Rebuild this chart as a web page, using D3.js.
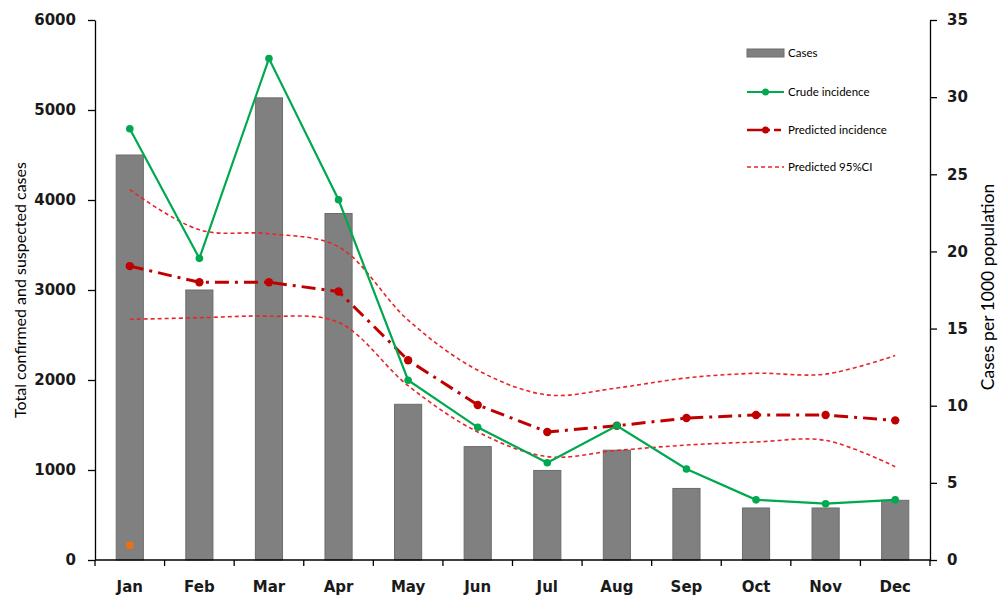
<!DOCTYPE html>
<html>
<head>
<meta charset="utf-8">
<script src="https://cdn.jsdelivr.net/npm/d3@7"></script>
<style>
  html, body { margin: 0; padding: 0; background: #fff; }
  svg { display: block; font-family: Lato, "Open Sans", sans-serif; }
</style>
</head>
<body>
<div id="chart"></div>
<script>
const months = ["Jan","Feb","Mar","Apr","May","Jun","Jul","Aug","Sep","Oct","Nov","Dec"];
const cases = [4500, 3000, 5135, 3850, 1730, 1260, 995, 1220, 795, 578, 578, 663];
const crudeIncidence = [27.95, 19.55, 32.5, 23.35, 11.65, 8.6, 6.3, 8.7, 5.9, 3.9, 3.65, 3.9];
const predictedIncidence = [19.05, 18.0, 18.0, 17.4, 12.95, 10.05, 8.3, 8.7, 9.2, 9.4, 9.4, 9.05];
const predictedUpper = [24.0, 21.4, 21.15, 20.3, 15.55, 12.3, 10.7, 11.15, 11.8, 12.1, 12.05, 13.25];
const predictedLower = [15.6, 15.7, 15.8, 15.4, 11.3, 8.3, 6.7, 7.1, 7.45, 7.65, 7.75, 6.05];
const extraMarker = [{month: "Jan", value: 0.95}];
const leftTicks = [0, 1000, 2000, 3000, 4000, 5000, 6000];
const rightTicks = [0, 5, 10, 15, 20, 25, 30, 35];
const legendItems = ["Cases", "Crude incidence", "Predicted incidence", "Predicted 95%CI"];

const W = 1000, H = 597;
const m = {left: 95, right: 70, top: 20, bottom: 37};
const svg = d3.select("#chart").append("svg").attr("width", W).attr("height", H);

const x = d3.scaleBand().domain(months).range([m.left, W - m.right]).paddingInner(0.61).paddingOuter(0.305);
const yL = d3.scaleLinear().domain([0, 6000]).range([H - m.bottom, m.top]);
const yR = d3.scaleLinear().domain([0, 35]).range([H - m.bottom, m.top]);
const cx = d => x(d) + x.bandwidth() / 2;

const GREEN = "#00a84f", DARKRED = "#c00000", RED = "#e8242a", ORANGE = "#f07010";
const NUMFONT = "'DejaVu Sans', Verdana, sans-serif";

// Bars
svg.append("g").selectAll("rect").data(months).join("rect")
  .attr("x", d => x(d))
  .attr("y", (d, i) => yL(cases[i]))
  .attr("width", x.bandwidth())
  .attr("height", (d, i) => yL(0) - yL(cases[i]))
  .attr("fill", "#808080")
  .attr("stroke", "#6c6c6c")
  .attr("stroke-width", 1);

// CI lines
const ciLine = arr => d3.line().x((d, i) => cx(months[i])).y(d => yR(d)).curve(d3.curveCatmullRom.alpha(0.5))(arr);
[predictedUpper, predictedLower].forEach(arr => {
  svg.append("path").attr("d", ciLine(arr)).attr("fill", "none")
    .attr("stroke", RED).attr("stroke-width", 1.6).attr("stroke-dasharray", "4,3");
});

// Predicted line
const straight = arr => d3.line().x((d, i) => cx(months[i])).y(d => yR(d))(arr);
svg.append("path").attr("d", straight(predictedIncidence)).attr("fill", "none")
  .attr("stroke", DARKRED).attr("stroke-width", 3).attr("stroke-dasharray", "14,6,3,6");
svg.append("g").selectAll("circle").data(predictedIncidence).join("circle")
  .attr("cx", (d, i) => cx(months[i])).attr("cy", d => yR(d)).attr("r", 4.2).attr("fill", DARKRED);

// Crude line
svg.append("path").attr("d", straight(crudeIncidence)).attr("fill", "none")
  .attr("stroke", GREEN).attr("stroke-width", 2.2);
svg.append("g").selectAll("circle").data(crudeIncidence).join("circle")
  .attr("cx", (d, i) => cx(months[i])).attr("cy", d => yR(d)).attr("r", 3.8).attr("fill", GREEN);

// Extra orange marker
svg.append("g").selectAll("rect").data(extraMarker).join("rect")
  .attr("x", d => cx(d.month) - 3.5).attr("y", d => yR(d.value) - 3.5)
  .attr("width", 7).attr("height", 7).attr("fill", ORANGE);

// Axes
const axisStyle = g => {
  g.selectAll(".domain").attr("stroke", "#000").attr("stroke-width", 1.3);
  g.selectAll(".tick line").attr("stroke", "#000").attr("stroke-width", 1.3);
  g.selectAll("text").attr("font-size", 15).attr("font-weight", "bold").attr("fill", "#1a1a1a")
    .attr("font-family", NUMFONT);
};
svg.append("g").attr("transform", `translate(${m.left},0)`)
  .call(d3.axisLeft(yL).tickValues(leftTicks).tickFormat(d3.format("d")).tickSize(7).tickPadding(12).tickSizeOuter(0))
  .call(axisStyle);
svg.append("g").attr("transform", `translate(${W - m.right},0)`)
  .call(d3.axisRight(yR).tickValues(rightTicks).tickFormat(d3.format("d")).tickSize(7).tickPadding(10).tickSizeOuter(0))
  .call(axisStyle);

// X axis with ticks between categories
const xb = svg.append("g").attr("transform", `translate(0,${H - m.bottom})`);
xb.append("line").attr("x1", m.left).attr("x2", W - m.right).attr("stroke", "#000").attr("stroke-width", 1.3);
const bounds = d3.range(months.length + 1).map(i => m.left + i * (W - m.left - m.right) / months.length);
xb.selectAll("line.tk").data(bounds).join("line").attr("class", "tk")
  .attr("x1", d => d).attr("x2", d => d).attr("y1", 0).attr("y2", 6)
  .attr("stroke", "#000").attr("stroke-width", 1.3);
xb.selectAll("text").data(months).join("text")
  .attr("x", d => cx(d)).attr("y", 32).attr("font-family", NUMFONT).attr("fill", "#1a1a1a")
  .attr("text-anchor", "middle").attr("font-size", 15).attr("font-weight", "bold").text(d => d);

// Axis titles
svg.append("text").attr("transform", `translate(26,${(yL(0) + yL(6000)) / 2}) rotate(-90)`)
  .attr("text-anchor", "middle").attr("font-size", 16).text("Total confirmed and suspected cases");
svg.append("text").attr("transform", `translate(994,${(yL(0) + yL(6000)) / 2 - 3}) rotate(-90)`)
  .attr("text-anchor", "middle").attr("font-size", 17.5).text("Cases per 1000 population");

// Legend
const lg = svg.append("g").attr("font-size", 11.5);
const lx0 = 747, lx1 = 784, ly = [53, 92, 130, 167];
lg.append("rect").attr("x", lx0).attr("y", ly[0] - 4).attr("width", lx1 - lx0).attr("height", 8)
  .attr("fill", "#808080").attr("stroke", "#6c6c6c");
lg.append("line").attr("x1", lx0).attr("x2", lx1).attr("y1", ly[1]).attr("y2", ly[1]).attr("stroke", GREEN).attr("stroke-width", 2.2);
lg.append("circle").attr("cx", (lx0 + lx1) / 2).attr("cy", ly[1]).attr("r", 3.5).attr("fill", GREEN);
lg.append("line").attr("x1", lx0).attr("x2", lx1).attr("y1", ly[2]).attr("y2", ly[2]).attr("stroke", DARKRED).attr("stroke-width", 2.5).attr("stroke-dasharray", "17,4,2,4,7");
lg.append("circle").attr("cx", (lx0 + lx1) / 2).attr("cy", ly[2]).attr("r", 3.5).attr("fill", DARKRED);
lg.append("line").attr("x1", lx0).attr("x2", lx1).attr("y1", ly[3]).attr("y2", ly[3]).attr("stroke", RED).attr("stroke-width", 1.3).attr("stroke-dasharray", "4,3");
lg.selectAll("text").data(legendItems).join("text")
  .attr("x", 788).attr("y", (d, i) => ly[i] + 4).text(d => d).attr("fill", "#000");
</script>
</body>
</html>
